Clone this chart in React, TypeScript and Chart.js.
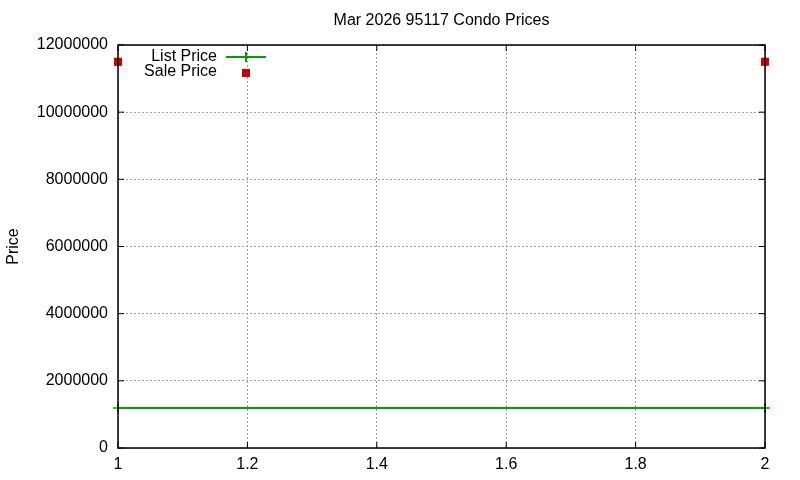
import { useEffect, useRef } from "react"
import { Chart, registerables } from "chart.js"

Chart.register(...registerables)

// Data
const listPriceX = [1, 2]
const listPriceY = [1190000, 1190000]
const salePriceX = [1, 2]
const salePriceY = [11500000, 11500000]
const xTicks = [1, 1.2, 1.4, 1.6, 1.8, 2]
const yTicks = [0, 2000000, 4000000, 6000000, 8000000, 10000000, 12000000]
const chartTitle = "Mar 2026 95117 Condo Prices"

const FONT = "'Liberation Sans', Arial, sans-serif"
const GREEN = "#00a000"
const RED = "#cc0000"

// gnuplot-like frame, inward tick marks, title and key in the upper left
const framePlugin = {
  id: "frame",
  afterDatasetsDraw(chart: any) {
    const { ctx, chartArea: a, scales } = chart
    ctx.save()
    ctx.strokeStyle = "#000"
    ctx.lineWidth = 1.5
    ctx.strokeRect(a.left, a.top, a.right - a.left, a.bottom - a.top)
    ctx.lineWidth = 1
    ctx.beginPath()
    for (const t of scales.x.ticks) {
      const px = scales.x.getPixelForValue(t.value)
      ctx.moveTo(px, a.bottom)
      ctx.lineTo(px, a.bottom - 6)
      ctx.moveTo(px, a.top)
      ctx.lineTo(px, a.top + 6)
    }
    for (const t of scales.y.ticks) {
      const py = scales.y.getPixelForValue(t.value)
      ctx.moveTo(a.left, py)
      ctx.lineTo(a.left + 6, py)
      ctx.moveTo(a.right, py)
      ctx.lineTo(a.right - 6, py)
    }
    ctx.stroke()

    // title centred over the plot
    ctx.fillStyle = "#000"
    ctx.font = `16px ${FONT}`
    ctx.textAlign = "center"
    ctx.textBaseline = "middle"
    ctx.fillText(chartTitle, (a.left + a.right) / 2, 21)

    // key
    const textRight = a.left + 99
    const sampleX = a.left + 108
    const sampleMid = sampleX + 20
    const row1 = a.top + 12
    const row2 = a.top + 27
    ctx.font = `16px ${FONT}`
    ctx.textAlign = "right"
    ctx.fillText("List Price", textRight, row1)
    ctx.fillText("Sale Price", textRight, row2)

    ctx.strokeStyle = GREEN
    ctx.lineWidth = 2
    ctx.beginPath()
    ctx.moveTo(sampleX, row1)
    ctx.lineTo(sampleX + 40, row1)
    ctx.moveTo(sampleMid, row1 - 5)
    ctx.lineTo(sampleMid, row1 + 5)
    ctx.stroke()

    ctx.fillStyle = RED
    ctx.fillRect(sampleMid - 4, row2 - 3, 8, 8)
    ctx.restore()
  },
}

function PriceChart() {
  const chartRef = useRef<HTMLCanvasElement>(null)
  const chartInstance = useRef<Chart | null>(null)

  useEffect(() => {
    if (!chartRef.current) return
    if (chartInstance.current) chartInstance.current.destroy()

    const ctx = chartRef.current.getContext("2d")
    if (!ctx) return

    chartInstance.current = new Chart(ctx, {
      type: "scatter",
      data: {
        datasets: [
          {
            label: "List Price",
            data: listPriceX.map((x, i) => ({ x, y: listPriceY[i] })),
            showLine: true,
            clip: false,
            borderColor: GREEN,
            backgroundColor: GREEN,
            borderWidth: 2,
            pointStyle: "cross",
            pointRadius: 5,
            pointBorderWidth: 1.5,
            pointBorderColor: GREEN,
          },
          {
            label: "Sale Price",
            data: salePriceX.map((x, i) => ({ x, y: salePriceY[i] })),
            showLine: false,
            clip: false,
            backgroundColor: RED,
            borderColor: RED,
            pointStyle: "rect",
            pointRadius: 5.7,
            pointBorderWidth: 0,
          },
        ],
      },
      options: {
        animation: false,
        responsive: false,
        layout: { padding: { left: 0, right: 35, top: 45, bottom: 0 } },
        scales: {
          x: {
            type: "linear",
            min: 1,
            max: 2,
            afterBuildTicks: (scale: any) => {
              scale.ticks = xTicks.map((value) => ({ value }))
            },
            afterFit: (scale: any) => {
              scale.height = 32
            },
            border: { display: false, dash: [2, 2] },
            grid: { color: "#a0a0a0", lineWidth: 1, drawTicks: false },
            ticks: {
              color: "#000",
              font: { family: FONT, size: 16 },
              padding: 7,
              callback: (v: any) => String(+Number(v).toFixed(1)),
            },
          },
          y: {
            type: "linear",
            min: 0,
            max: 12000000,
            afterBuildTicks: (scale: any) => {
              scale.ticks = yTicks.map((value) => ({ value }))
            },
            afterFit: (scale: any) => {
              scale.width = 118
            },
            border: { display: false, dash: [2, 2] },
            grid: { color: "#a0a0a0", lineWidth: 1, drawTicks: false },
            title: {
              display: true,
              text: "Price",
              color: "#000",
              font: { family: FONT, size: 16 },
              padding: { top: 4, bottom: 0 },
            },
            ticks: {
              color: "#000",
              font: { family: FONT, size: 16 },
              padding: 10,
              callback: (v: any) => String(v),
            },
          },
        },
        plugins: {
          legend: { display: false },
          tooltip: { enabled: false },
          title: { display: false },
        },
      },
      plugins: [framePlugin],
    })

    return () => {
      if (chartInstance.current) chartInstance.current.destroy()
    }
  }, [])

  return <canvas ref={chartRef} width={800} height={480} />
}

export default function App() {
  return (
    <div style={{ position: "absolute", left: 0, top: 0, width: 800, height: 480, background: "#fff" }}>
      <PriceChart />
    </div>
  )
}
